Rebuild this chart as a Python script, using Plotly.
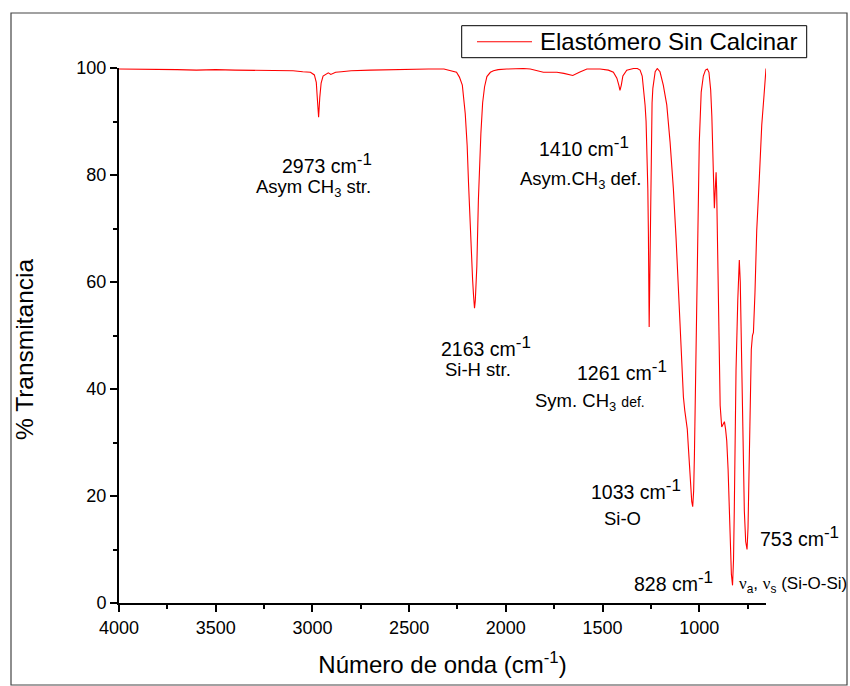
import plotly.graph_objects as go

# Spectrum (wavenumber in cm-1, % transmittance)
wavenumber = [
    4000, 3900, 3800, 3700, 3600, 3500, 3400, 3300, 3200, 3100, 3050, 3010,
    2990, 2980, 2975, 2968, 2962, 2955, 2945, 2930, 2918, 2905, 2880, 2850,
    2800, 2700, 2600, 2500, 2400, 2320, 2280, 2255, 2240, 2225, 2210, 2200,
    2193, 2186, 2179, 2172, 2167, 2162, 2158, 2150, 2142, 2135, 2129, 2120,
    2110, 2098, 2080, 2064, 2040, 1995, 1950, 1909, 1874, 1840, 1806, 1770,
    1736, 1700, 1654, 1620, 1581, 1513, 1470, 1444, 1426, 1416, 1410, 1403,
    1395, 1375, 1340, 1320, 1306, 1295, 1289, 1280, 1275, 1270, 1266, 1263,
    1261, 1259, 1256, 1253, 1249, 1244, 1240, 1228, 1217, 1203, 1186, 1168,
    1151, 1134, 1120, 1108, 1099, 1090, 1082, 1075, 1068, 1062, 1056, 1047,
    1039, 1034, 1029, 1025, 1016, 1008, 1000, 990, 979, 968, 958, 950,
    941, 935, 930, 926, 922, 918, 913, 910, 906, 899, 892, 884,
    877, 870, 864, 858, 851, 844, 838, 834, 828, 823, 819, 810,
    801, 793, 788, 784, 775, 767, 760, 753, 748, 744, 737, 731,
    725, 720, 712, 703, 690, 677, 665, 655,
]
transmittance = [
    99.8, 99.8, 99.7, 99.7, 99.6, 99.7, 99.6, 99.6, 99.5, 99.5, 99.3, 99.2,
    98.7, 97.3, 94.5, 90.8, 94.5, 97.2, 98.5, 98.8, 99.1, 98.8, 99.2, 99.3,
    99.5, 99.6, 99.7, 99.8, 99.8, 99.8, 99.5, 99.2, 98.3, 96.8, 91.5, 85.5,
    78.5, 71.5, 66.0, 60.5, 57.5, 55.1, 56.5, 62.9, 75.3, 83.5, 87.8, 93.5,
    96.5, 98.4, 99.2, 99.5, 99.7, 99.8, 99.9, 99.9, 99.8, 99.5, 99.2, 99.2,
    99.2, 99.0, 98.6, 99.2, 99.8, 99.8, 99.6, 99.2, 98.1, 96.8, 95.8, 96.8,
    98.5, 99.6, 99.9, 99.9, 99.6, 98.5, 96.5, 93.0, 90.0, 84.0, 77.5, 69.0,
    62.0, 51.6, 60.0, 71.3, 86.9, 93.5, 96.2, 99.3, 99.9, 99.3, 96.8, 93.1,
    86.2, 77.5, 68.2, 58.8, 49.5, 43.2, 38.5, 36.0, 34.5, 32.5, 28.9, 22.7,
    19.0, 18.0, 21.0, 27.7, 49.5, 71.3, 86.0, 95.5, 98.5, 99.6, 99.8, 99.2,
    95.9, 91.0, 86.0, 79.0, 73.8, 76.0, 80.5, 77.0, 69.7, 50.0, 36.9, 32.9,
    33.5, 33.9, 32.5, 30.3, 25.0, 17.2, 10.0, 5.4, 3.3, 8.0, 17.2, 43.4,
    56.5, 64.1, 60.0, 50.0, 30.3, 17.2, 11.5, 10.0, 14.0, 20.5, 36.9, 47.4,
    50.0, 50.6, 58.0, 69.6, 79.0, 89.3, 95.0, 99.9,
]

series_name = "Elastómero Sin Calcinar"
x_title = "Número de onda (cm<sup>-1</sup>)"
y_title = "% Transmitancia"

x_tick_values = [4000, 3500, 3000, 2500, 2000, 1500, 1000]
y_tick_values = [0, 20, 40, 60, 80, 100]

SUP = "<sup><span style='font-size:17px'>-1</span></sup>"
NU = "<span style='font-family:Liberation Serif, Times New Roman, serif'>ν</span>"

# Peak labels inside the axes: (text, wavenumber, transmittance, font size)
peak_labels = [
    ("2973 cm" + SUP, 2925, 82.2, 19.5),
    ("Asym CH<sub>3</sub> str.", 2997, 77.5, 18.5),
    ("1410 cm" + SUP, 1596, 85.3, 19.5),
    ("Asym.CH<sub>3</sub> def.", 1616, 79.0, 18.5),
    ("2163 cm" + SUP, 2102, 48.0, 19.5),
    ("Si-H str.", 2144, 43.6, 18.5),
    ("1261 cm" + SUP, 1399, 43.5, 19.5),
    ("Sym. CH<sub>3</sub> <span style='font-size:14px'>def.</span>", 1565, 37.5, 18.5),
    ("1033 cm" + SUP, 1327, 21.3, 19.5),
    ("Si-O", 1399, 15.8, 18.5),
    ("828 cm" + SUP, 1135, 4.0, 19.5),
]
# Labels past the right end of the axis, in picture pixels: (text, x_left, y_center, size)
side_labels = [
    ("753 cm" + SUP, 758, 536, 19.5),
    (NU + "<sub>a</sub>, " + NU + "<sub>s</sub> (Si-O-Si)", 737, 585, 17),
]

FONT = "Liberation Sans, Arial, sans-serif"

L, R, T, B = 119, 766, 68, 603
W, H = R - L, B - T


def px(xp):
    return (xp - L) / W


def py(yp):
    return (B - yp) / H


fig = go.Figure()
fig.add_trace(go.Scatter(
    x=wavenumber, y=transmittance, mode="lines", name=series_name,
    line=dict(color="#ff0000", width=1.1), showlegend=False,
))

annotations = []
for text, wn, t, size in peak_labels:
    annotations.append(dict(
        x=wn, y=t, xref="x", yref="y", text=text, showarrow=False,
        xanchor="center", yanchor="middle",
        font=dict(family=FONT, size=size, color="black"),
    ))
for text, xl, yc, size in side_labels:
    annotations.append(dict(
        x=px(xl), y=py(yc), xref="paper", yref="paper", text=text, showarrow=False,
        xanchor="left", yanchor="middle",
        font=dict(family=FONT, size=size, color="black"),
    ))

# y-axis title (placed as rotated text, slightly below the plot's middle as in the reference)
annotations.append(dict(
    x=px(24), y=py(350), xref="paper", yref="paper", text=y_title, textangle=-90,
    showarrow=False, xanchor="center", yanchor="middle",
    font=dict(family=FONT, size=24.5, color="black"),
))

# legend box drawn by hand (box, line sample, label)
leg_x0, leg_x1, leg_y0, leg_y1 = 461.7, 806.7, 25.7, 57.7
leg_mid = (leg_y0 + leg_y1) / 2
annotations.append(dict(
    x=px(538), y=py(leg_mid), xref="paper", yref="paper", text=series_name,
    showarrow=False, xanchor="left", yanchor="middle",
    font=dict(family=FONT, size=24, color="black"),
))

shapes = [
    # outer frame around the whole picture
    dict(type="rect", xref="paper", yref="paper",
         x0=px(11), x1=px(847), y0=py(685), y1=py(13),
         line=dict(color="#444444", width=1.2), fillcolor="rgba(0,0,0,0)", layer="below"),
    # legend box
    dict(type="rect", xref="paper", yref="paper",
         x0=px(leg_x0), x1=px(leg_x1), y0=py(leg_y1), y1=py(leg_y0),
         line=dict(color="black", width=1), fillcolor="white"),
    # legend line sample
    dict(type="line", xref="paper", yref="paper",
         x0=px(477), x1=px(532), y0=py(leg_mid), y1=py(leg_mid),
         line=dict(color="#ff0000", width=1.1)),
]

fig.update_layout(
    width=850, height=686, autosize=False,
    margin=dict(l=L, r=850 - R, t=T, b=686 - B, pad=0),
    paper_bgcolor="white", plot_bgcolor="white",
    font=dict(family=FONT, color="black"),
    showlegend=False,
    annotations=annotations,
    shapes=shapes,
    xaxis=dict(
        range=[4000, 655], tickvals=x_tick_values,
        ticktext=[str(v) for v in x_tick_values],
        showgrid=False, zeroline=False, automargin=False,
        showline=True, linecolor="black", linewidth=2,
        ticks="outside", ticklen=7, tickwidth=1.5, tickcolor="black",
        tickfont=dict(family=FONT, size=18, color="black"),
        minor=dict(dtick=250, tick0=0, ticks="outside", ticklen=4, tickwidth=1.5,
                   tickcolor="black", showgrid=False),
        title=dict(text=x_title, font=dict(family=FONT, size=24, color="black"), standoff=20),
    ),
    yaxis=dict(
        range=[0, 100], tickvals=y_tick_values,
        ticktext=[str(v) for v in y_tick_values],
        showgrid=False, zeroline=False, automargin=False,
        showline=True, linecolor="black", linewidth=2,
        ticks="outside", ticklen=7, tickwidth=1.5, tickcolor="black",
        tickfont=dict(family=FONT, size=18, color="black"),
        minor=dict(dtick=10, tick0=0, ticks="outside", ticklen=4, tickwidth=1.5,
                   tickcolor="black", showgrid=False),
    ),
)

fig.write_html("out.html", config={"displayModeBar": False},
               post_script="document.body.style.margin='0';")
